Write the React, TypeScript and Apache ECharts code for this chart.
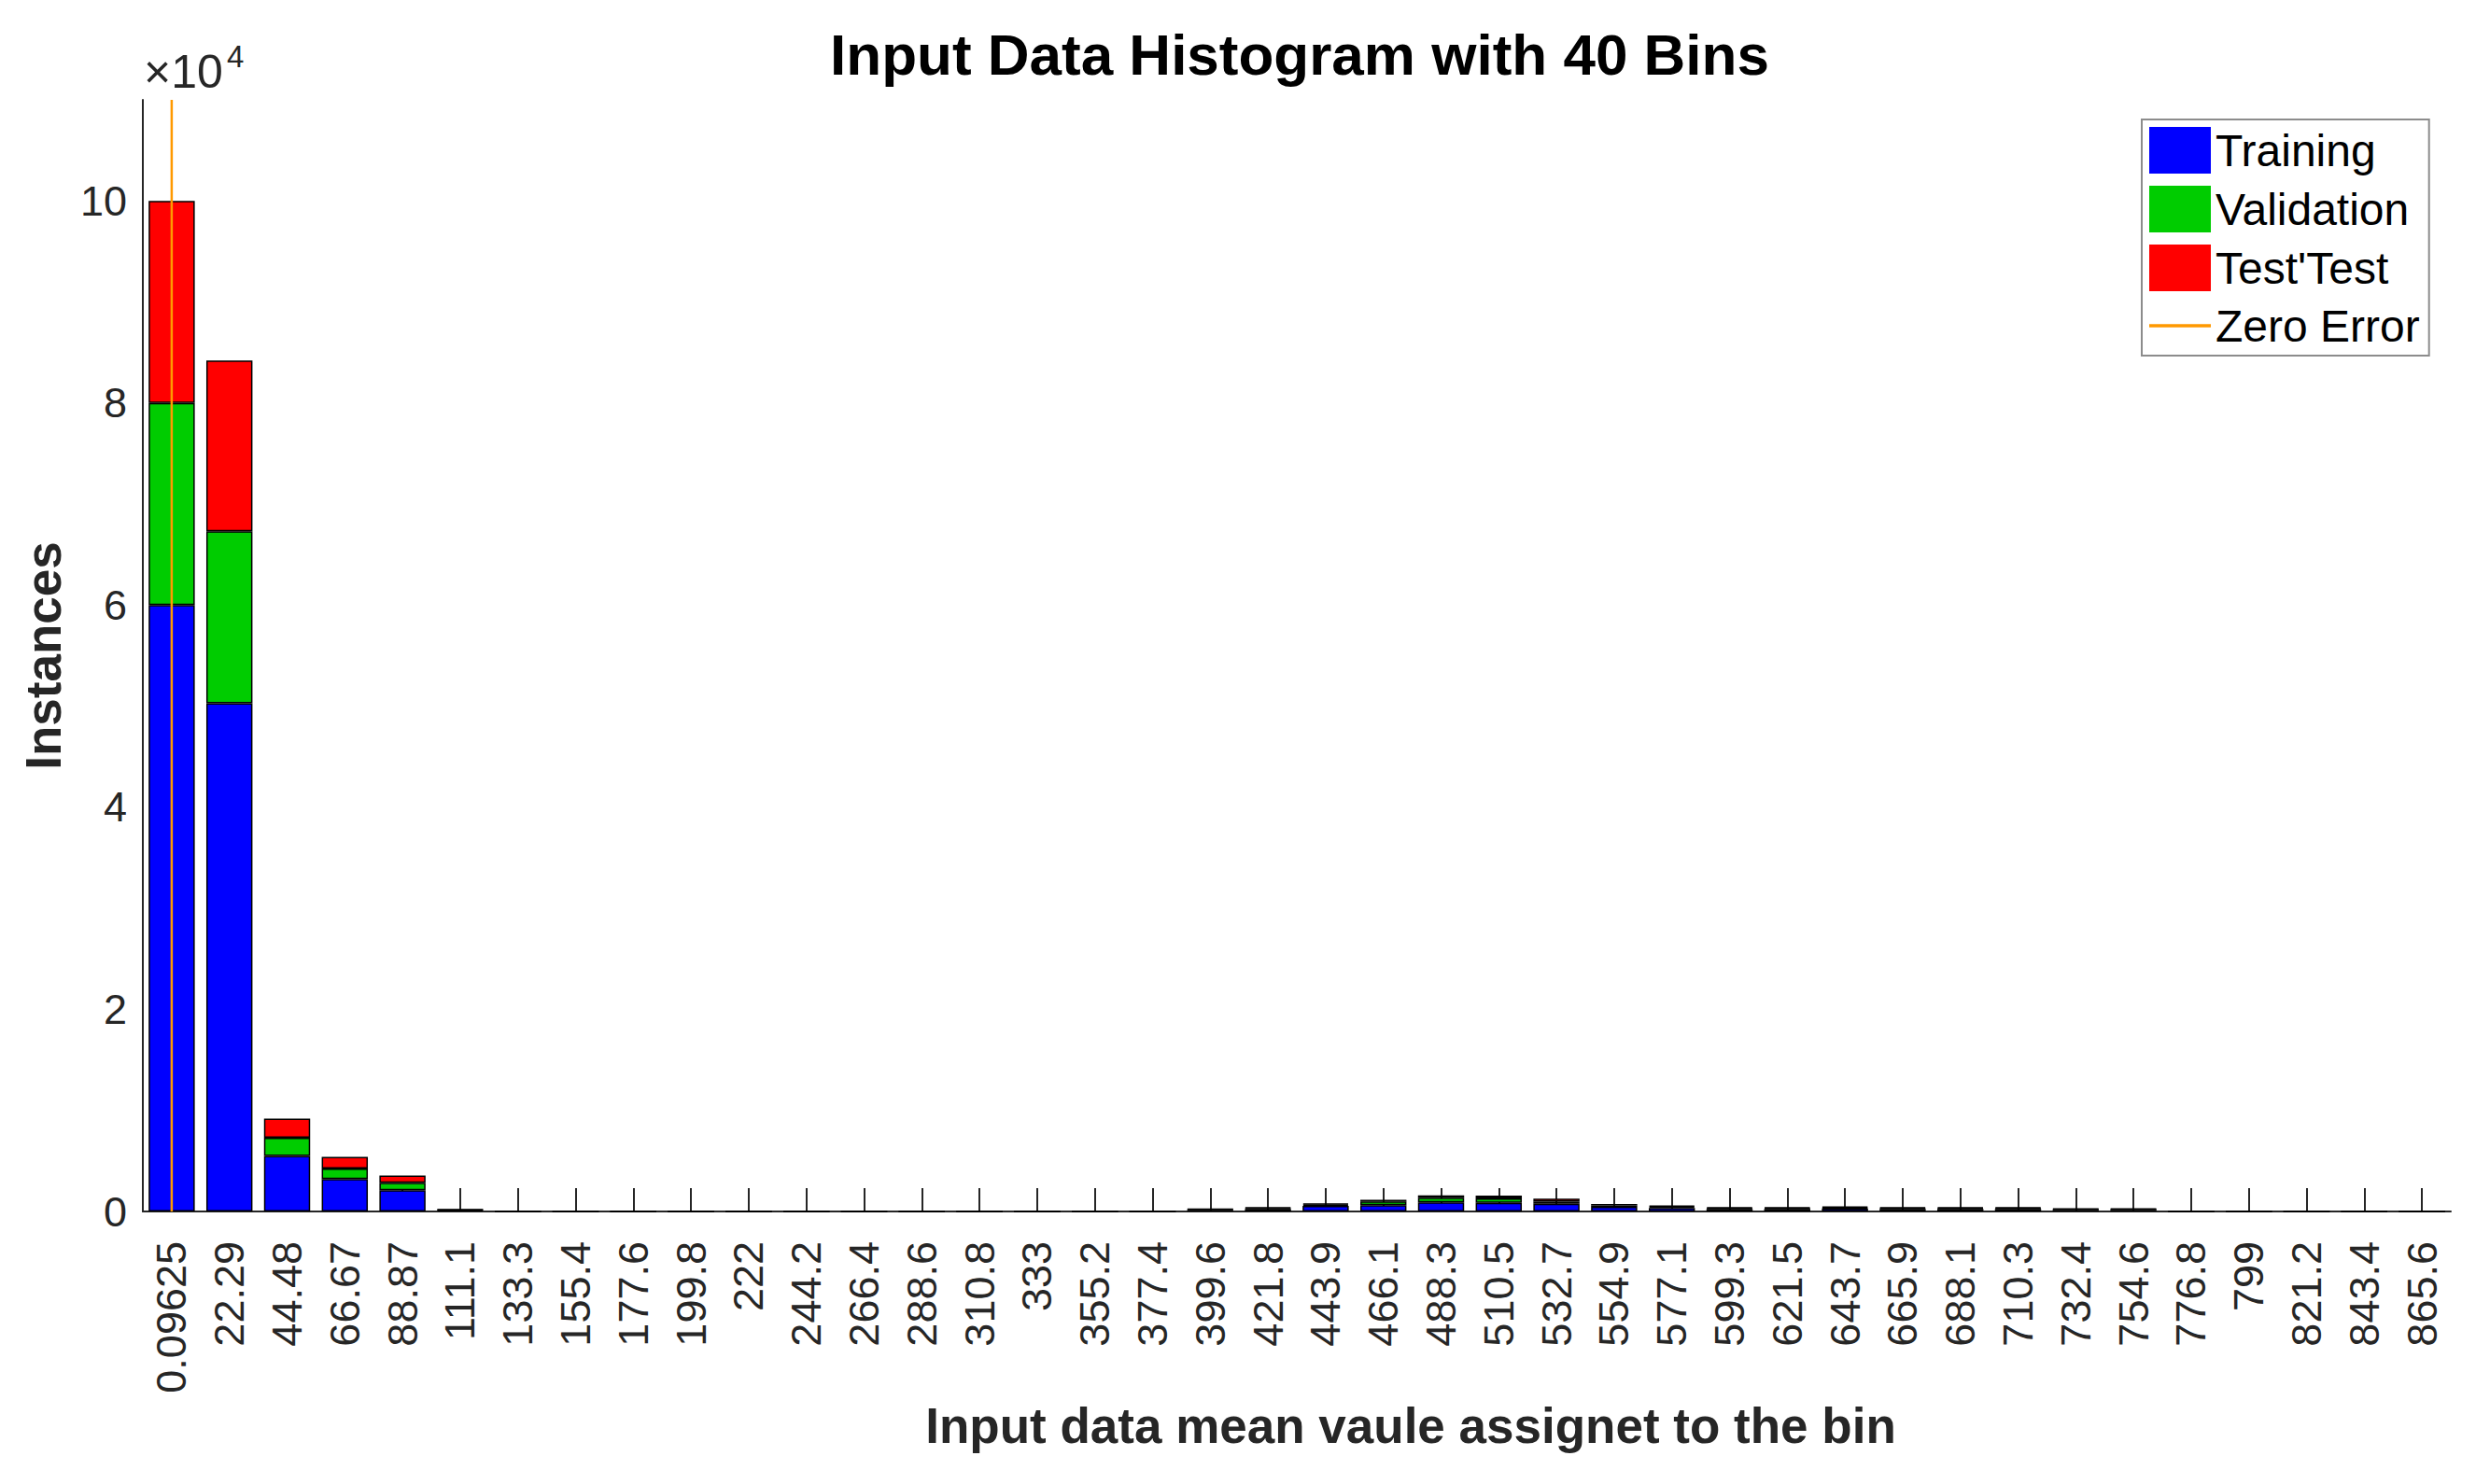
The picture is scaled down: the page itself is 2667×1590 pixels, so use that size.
import React, { useEffect, useRef } from 'react';
import * as echarts from 'echarts';

const binCenters = [
  '0.09625', '22.29', '44.48', '66.67', '88.87', '111.1', '133.3', '155.4', '177.6', '199.8',
  '222', '244.2', '266.4', '288.6', '310.8', '333', '355.2', '377.4', '399.6', '421.8',
  '443.9', '466.1', '488.3', '510.5', '532.7', '554.9', '577.1', '599.3', '621.5', '643.7',
  '665.9', '688.1', '710.3', '732.4', '754.6', '776.8', '799', '821.2', '843.4', '865.6',
];

const training = [
  60000, 50300, 5500, 3200, 2100, 120, 0, 0, 0, 0,
  0, 0, 0, 0, 0, 0, 0, 0, 150, 240,
  550, 620, 910, 860, 760, 470, 350, 250, 250, 290,
  250, 250, 250, 170, 170, 0, 0, 0, 0, 0,
];

const validation = [
  20000, 17000, 1800, 1050, 750, 40, 0, 0, 0, 0,
  0, 0, 0, 0, 0, 0, 0, 0, 50, 80,
  130, 380, 450, 440, 220, 140, 115, 85, 85, 95,
  85, 85, 85, 55, 55, 0, 0, 0, 0, 0,
];

const testSet = [
  20000, 16900, 1900, 1150, 700, 40, 0, 0, 0, 0,
  0, 0, 0, 0, 0, 0, 0, 0, 50, 80,
  120, 150, 240, 280, 300, 140, 115, 85, 85, 95,
  85, 85, 85, 55, 55, 0, 0, 0, 0, 0,
];

const zeroErrorBin = '0.09625';
const yMax = 110000;
const yStep = 20000;
const yScale = 10000;

const FONT = "'Liberation Sans', Arial, Helvetica, sans-serif";

export default function App() {
  const ref = useRef<HTMLDivElement>(null);

  useEffect(() => {
    if (!ref.current) return;
    const chart = echarts.init(ref.current, null, { renderer: 'svg' });
    const barStyle = (color: string) => ({ color, borderColor: '#000000', borderWidth: 1.5 });

    chart.setOption({
      animation: false,
      backgroundColor: '#ffffff',
      textStyle: { fontFamily: FONT },
      title: {
        text: 'Input Data Histogram with 40 Bins',
        left: 1387,
        top: 22,
        textAlign: 'center',
        textStyle: { fontSize: 62, fontWeight: 'bold', color: '#000000', fontFamily: FONT },
      },
      grid: { left: 153, right: 42, top: 107, bottom: 292, containLabel: false },
      legend: {
        orient: 'vertical',
        left: 2294,
        top: 128,
        data: [
          { name: 'Training', icon: 'rect' },
          { name: 'Validation', icon: 'rect' },
          { name: "Test'Test", icon: 'rect' },
          { name: 'Zero Error', icon: 'path://M0,0L66,0L66,3.5L0,3.5Z' },
        ],
        itemWidth: 66,
        itemHeight: 50,
        itemGap: 13,
        padding: [8, 10, 8, 8],
        borderColor: '#8c8c8c',
        borderWidth: 2,
        backgroundColor: '#ffffff',
        itemStyle: { borderWidth: 0 },
        textStyle: { fontSize: 48, color: '#000000', fontFamily: FONT },
      },
      xAxis: {
        type: 'category',
        data: binCenters,
        axisLine: { lineStyle: { color: '#262626', width: 2 } },
        axisTick: {
          show: true,
          inside: true,
          length: 25,
          alignWithLabel: true,
          interval: 0,
          lineStyle: { color: '#262626', width: 2 },
        },
        axisLabel: {
          interval: 0,
          rotate: 90,
          margin: 32,
          fontSize: 45,
          color: '#262626',
          fontFamily: FONT,
        },
        name: 'Input data mean vaule assignet to the bin',
        nameLocation: 'middle',
        nameGap: 196,
        nameTextStyle: {
          fontSize: 53,
          fontWeight: 'bold',
          color: '#262626',
          fontFamily: FONT,
          padding: [0, 0, 0, 244],
        },
      },
      yAxis: {
        type: 'value',
        min: 0,
        max: yMax,
        interval: yStep,
        axisLine: { show: true, lineStyle: { color: '#262626', width: 2 } },
        axisTick: { show: false },
        splitLine: { show: false },
        axisLabel: {
          formatter: (v: number) => (v % yStep === 0 ? String(v / yScale) : ''),
          fontSize: 45,
          margin: 17,
          color: '#262626',
          fontFamily: FONT,
        },
        name: 'Instances',
        nameLocation: 'middle',
        nameGap: 80,
        nameTextStyle: { fontSize: 53, fontWeight: 'bold', color: '#262626', fontFamily: FONT },
      },
      graphic: [
        {
          type: 'text',
          left: 154,
          top: 52,
          style: { text: '×10', fontSize: 50, fill: '#262626', fontFamily: FONT },
        },
        {
          type: 'text',
          left: 243,
          top: 44,
          style: { text: '4', fontSize: 33, fill: '#262626', fontFamily: FONT },
        },
      ],
      series: [
        {
          name: 'Training',
          type: 'bar',
          stack: 'all',
          data: training,
          barWidth: '80%',
          itemStyle: barStyle('#0000ff'),
        },
        {
          name: 'Validation',
          type: 'bar',
          stack: 'all',
          data: validation,
          barWidth: '80%',
          itemStyle: barStyle('#00cc00'),
        },
        {
          name: "Test'Test",
          type: 'bar',
          stack: 'all',
          data: testSet,
          barWidth: '80%',
          itemStyle: barStyle('#ff0000'),
        },
        {
          name: 'Zero Error',
          type: 'line',
          data: [
            [zeroErrorBin, 0],
            [zeroErrorBin, yMax],
          ],
          symbol: 'none',
          lineStyle: { color: '#ff9900', width: 2.5 },
          itemStyle: { color: '#ff9900' },
          z: 5,
        },
      ],
    });

    return () => {
      chart.dispose();
    };
  }, []);

  return (
    <div
      ref={ref}
      style={{ position: 'fixed', left: 0, top: 0, width: '2667px', height: '1590px', background: '#fff' }}
    />
  );
}
